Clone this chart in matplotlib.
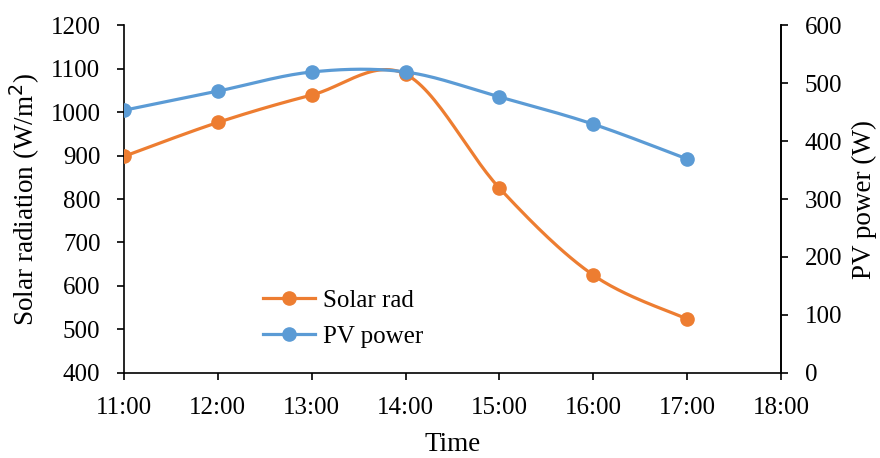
import numpy as np
import matplotlib.pyplot as plt
from matplotlib.lines import Line2D

plt.rcParams['font.family'] = ['Liberation Serif', 'DejaVu Serif']

hours = [11, 12, 13, 14, 15, 16, 17]
solar_rad = [898, 976, 1039, 1087, 825, 625, 524]
pv_power = [453, 486, 519, 519, 476, 429, 369]
xtick_labels = ['11:00', '12:00', '13:00', '14:00', '15:00', '16:00', '17:00', '18:00']

orange = '#ED7D31'
blue = '#5B9BD5'


def smooth(xs, ys, n=30):
    # Excel-like smoothed line: Catmull-Rom style Bezier segments
    x = np.asarray(xs, float)
    y = np.asarray(ys, float)
    px = np.concatenate([[x[0]], x, [x[-1]]])
    py = np.concatenate([[y[0]], y, [y[-1]]])
    out_x, out_y = [], []
    t = np.linspace(0, 1, n)
    for i in range(1, len(px) - 2):
        p0 = np.array([px[i], py[i]])
        p3 = np.array([px[i + 1], py[i + 1]])
        c1 = p0 + (np.array([px[i + 1], py[i + 1]]) - np.array([px[i - 1], py[i - 1]])) / 6
        c2 = p3 - (np.array([px[i + 2], py[i + 2]]) - np.array([px[i], py[i]])) / 6
        b = ((1 - t) ** 3)[:, None] * p0 + (3 * (1 - t) ** 2 * t)[:, None] * c1 \
            + (3 * (1 - t) * t ** 2)[:, None] * c2 + (t ** 3)[:, None] * p3
        out_x.extend(b[:, 0])
        out_y.extend(b[:, 1])
    return out_x, out_y


fig = plt.figure(figsize=(8.8, 4.58), dpi=100)
ax = fig.add_axes([0.1409, 0.1856, 0.7466, 0.7598])
ax2 = ax.twinx()

sx, sy = smooth(hours, solar_rad)
ax.plot(sx, sy, color=orange, lw=2.3, solid_capstyle='round', zorder=3)
ax.plot(hours, solar_rad, 'o', color=orange, ms=9.5, zorder=4)

px_, py_ = smooth(hours, pv_power)
ax2.plot(px_, py_, color=blue, lw=2.3, solid_capstyle='round', zorder=3)
ax2.plot(hours, pv_power, 'o', color=blue, ms=9.5, zorder=4)

ax.set_xlim(11, 18)
ax.set_ylim(400, 1200)
ax2.set_ylim(0, 600)
ax.set_xticks(range(11, 19))
ax.set_xticklabels(xtick_labels)
ax.set_yticks(range(400, 1201, 100))
ax2.set_yticks(range(0, 601, 100))

for a in (ax, ax2):
    a.spines['top'].set_visible(False)
    for s in a.spines.values():
        s.set_linewidth(1.2)
    a.tick_params(labelsize=18, width=1.2, length=5, direction='out', pad=12)
ax2.spines['left'].set_visible(False)
ax2.spines['bottom'].set_visible(False)

ax.set_xlabel('Time', fontsize=19.5, labelpad=10)
ax.set_ylabel('Solar radiation (W/m$^{2}$)', fontsize=19.5, labelpad=6)
ax2.set_ylabel('PV power (W)', fontsize=19.5, labelpad=7)

handles = [
    Line2D([], [], color=orange, lw=2.3, marker='o', ms=9.5),
    Line2D([], [], color=blue, lw=2.3, marker='o', ms=9.5),
]
fig.legend(handles, ['Solar rad', 'PV power'], loc='upper left',
           bbox_to_anchor=(0.273, 0.418), frameon=False, fontsize=18,
           handlelength=2.1, labelspacing=0.55, handletextpad=0.3)

fig.savefig('out.png', dpi=100)
